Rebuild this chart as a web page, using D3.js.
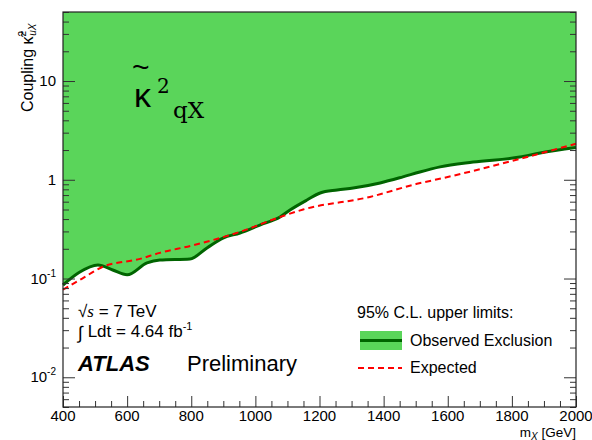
<!DOCTYPE html>
<html>
<head>
<meta charset="utf-8">
<script src="https://cdn.jsdelivr.net/npm/d3@7"></script>
<style>
  body { margin: 0; background: #fff; }
  svg { font-family: "Liberation Sans", Arial, sans-serif; }
</style>
</head>
<body>
<svg id="chart"></svg>
<script>
// observed limit (mass in GeV, coupling)
const obsMass = [400, 450, 509, 555, 600, 662, 702, 796, 849, 899, 952, 1014, 1077, 1108, 1161, 1202, 1255, 1305, 1389, 1460, 1513, 1576, 1679, 1825, 1888, 2000];
const obsCoupling = [0.086, 0.115, 0.137, 0.122, 0.109, 0.144, 0.154, 0.158, 0.204, 0.257, 0.289, 0.348, 0.42, 0.494, 0.624, 0.735, 0.788, 0.826, 0.929, 1.07, 1.20, 1.35, 1.51, 1.70, 1.87, 2.12];
// expected limit
const expMass = [400, 460, 525, 640, 702, 800, 952, 1077, 1149, 1357, 1504, 1585, 1835, 2000];
const expCoupling = [0.077, 0.100, 0.132, 0.158, 0.182, 0.215, 0.297, 0.42, 0.50, 0.67, 0.91, 1.04, 1.66, 2.32];

const xTicks = [400, 600, 800, 1000, 1200, 1400, 1600, 1800, 2000];
const yMajor = [0.01, 0.1, 1, 10];
const yLabels = [["10", "-2"], ["10", "-1"], ["1", ""], ["10", ""]];

const W = 592, H = 440;
const margin = { top: 12, right: 16, bottom: 33, left: 63 };
const width = W - margin.left - margin.right;
const height = H - margin.top - margin.bottom;

const svg = d3.select("#chart").attr("width", W).attr("height", H);
const g = svg.append("g").attr("transform", `translate(${margin.left},${margin.top})`);

const x = d3.scaleLinear().domain([400, 2000]).range([0, width]);
const y = d3.scaleLog().domain([0.005, 50]).range([height, 0]);

const obs = obsMass.map((m, i) => ({ m, v: obsCoupling[i] }));
const exp = expMass.map((m, i) => ({ m, v: expCoupling[i] }));

// excluded region above observed curve
const area = d3.area()
    .x(d => x(d.m))
    .y0(0)
    .y1(d => y(d.v))
    .curve(d3.curveMonotoneX);

g.append("path")
    .datum(obs)
    .attr("d", area)
    .attr("fill", "#5ad55a");

const line = d3.line()
    .x(d => x(d.m))
    .y(d => y(d.v))
    .curve(d3.curveMonotoneX);

g.append("path")
    .datum(obs)
    .attr("d", line)
    .attr("fill", "none")
    .attr("stroke", "#006400")
    .attr("stroke-width", 3);

g.append("path")
    .datum(exp)
    .attr("d", line)
    .attr("fill", "none")
    .attr("stroke", "#ff0000")
    .attr("stroke-width", 2)
    .attr("stroke-dasharray", "6,4");

// minor tick values
const yMinor = [];
[0.001, 0.01, 0.1, 1, 10].forEach(d => {
    for (let k = 2; k <= 9; k++) {
        const v = d * k;
        if (v >= 0.005 && v <= 50) yMinor.push(v);
    }
});
const xMinor = d3.range(400, 2001, 50).filter(v => !xTicks.includes(v));

const tickColor = "#333";
function styleAxis(sel) {
    sel.select(".domain").remove();
    sel.selectAll("line").attr("stroke", tickColor);
    sel.selectAll("text").remove();
}

// x axis ticks (inside)
g.append("g").attr("transform", `translate(0,${height})`)
    .call(d3.axisBottom(x).tickValues(xTicks).tickSize(-11)).call(styleAxis);
g.append("g").attr("transform", `translate(0,${height})`)
    .call(d3.axisBottom(x).tickValues(xMinor).tickSize(-6)).call(styleAxis);

// y axis ticks left and right
g.append("g").call(d3.axisLeft(y).tickValues(yMajor).tickSize(-12)).call(styleAxis);
g.append("g").call(d3.axisLeft(y).tickValues(yMinor).tickSize(-6)).call(styleAxis);
g.append("g").attr("transform", `translate(${width},0)`)
    .call(d3.axisRight(y).tickValues(yMajor).tickSize(-12)).call(styleAxis);
g.append("g").attr("transform", `translate(${width},0)`)
    .call(d3.axisRight(y).tickValues(yMinor).tickSize(-6)).call(styleAxis);

// frame
g.append("rect")
    .attr("width", width).attr("height", height)
    .attr("fill", "none").attr("stroke", "#222").attr("stroke-width", 1.2);

// x tick labels
g.selectAll(".xl").data(xTicks).join("text")
    .attr("x", d => x(d)).attr("y", height + 14)
    .attr("text-anchor", "middle")
    .attr("font-size", 15)
    .text(d => d);

// y tick labels
const yl = g.selectAll(".yl").data(yMajor).join("text")
    .attr("x", -7).attr("y", d => y(d) + 5)
    .attr("text-anchor", "end")
    .attr("font-size", 15);
yl.each(function (d, i) {
    const t = d3.select(this);
    const [base, exp] = yLabels[i];
    if (exp) {
        t.append("tspan").text(base);
        t.append("tspan").attr("dy", -7).attr("font-size", 10).text(exp);
    } else {
        t.text(base);
    }
});

// axis titles
const xt = svg.append("text")
    .attr("x", margin.left + width).attr("y", H - 3)
    .attr("text-anchor", "end").attr("font-size", 13.5);
xt.append("tspan").text("m");
xt.append("tspan").attr("dy", 3).attr("font-size", 10).attr("font-style", "italic").text("X");
xt.append("tspan").attr("dy", -3).text(" [GeV]");

const yt = svg.append("text")
    .attr("transform", `translate(33,112) rotate(-90)`)
    .attr("text-anchor", "start").attr("font-size", 16);
yt.append("tspan").text("Coupling  ");
yt.append("tspan").text("\u03ba\u0303");
yt.append("tspan").attr("dy", -7).attr("font-size", 10).text("2");
yt.append("tspan").attr("dy", 10).attr("dx", -5).attr("font-size", 10).attr("font-style", "italic").text("uX");

// big coupling label (tilde accent + kappa in one text)
const big = svg.append("text");
big.append("tspan").attr("x", 132).attr("y", 77).attr("font-size", 30).text("~");
big.append("tspan").attr("x", 134).attr("y", 107).attr("font-size", 34).text("\u03ba");
big.append("tspan").attr("x", 157).attr("y", 93)
    .attr("font-family", "DejaVu Serif, serif").attr("font-size", 20).text("2");
big.append("tspan").attr("x", 173).attr("y", 118)
    .attr("font-family", "DejaVu Serif, serif").attr("font-size", 23).text("qX");

// left annotations
const s1 = svg.append("text").attr("x", 78).attr("y", 317).attr("font-size", 17);
s1.append("tspan").text("\u221A");
s1.append("tspan").attr("font-family", "Liberation Serif, serif").attr("font-style", "italic").text("s");
s1.append("tspan").text(" = 7 TeV");

const s2 = svg.append("text").attr("x", 78).attr("y", 337).attr("font-size", 17);
s2.append("tspan").attr("font-size", 18).attr("dy", 2).text("\u222B");
s2.append("tspan").attr("dy", -2).text(" Ldt = 4.64 fb");
s2.append("tspan").attr("dy", -7).attr("font-size", 11).text("-1");

svg.append("text").attr("x", 78).attr("y", 371)
    .attr("font-size", 22).attr("font-weight", "bold").attr("font-style", "italic")
    .text("ATLAS");
svg.append("text").attr("x", 187).attr("y", 371)
    .attr("font-size", 22).text("Preliminary");

// legend
svg.append("text").attr("x", 357).attr("y", 318).attr("font-size", 16)
    .text("95% C.L. upper limits:");
svg.append("rect").attr("x", 360).attr("y", 331).attr("width", 42).attr("height", 19)
    .attr("fill", "#5ad55a");
svg.append("line").attr("x1", 360).attr("x2", 402).attr("y1", 340.5).attr("y2", 340.5)
    .attr("stroke", "#006400").attr("stroke-width", 3);
svg.append("text").attr("x", 410).attr("y", 346).attr("font-size", 16)
    .text("Observed Exclusion");
svg.append("line").attr("x1", 358).attr("x2", 402).attr("y1", 368).attr("y2", 368)
    .attr("stroke", "#ff0000").attr("stroke-width", 2).attr("stroke-dasharray", "6,4");
svg.append("text").attr("x", 410).attr("y", 373).attr("font-size", 16)
    .text("Expected");
</script>
</body>
</html>
